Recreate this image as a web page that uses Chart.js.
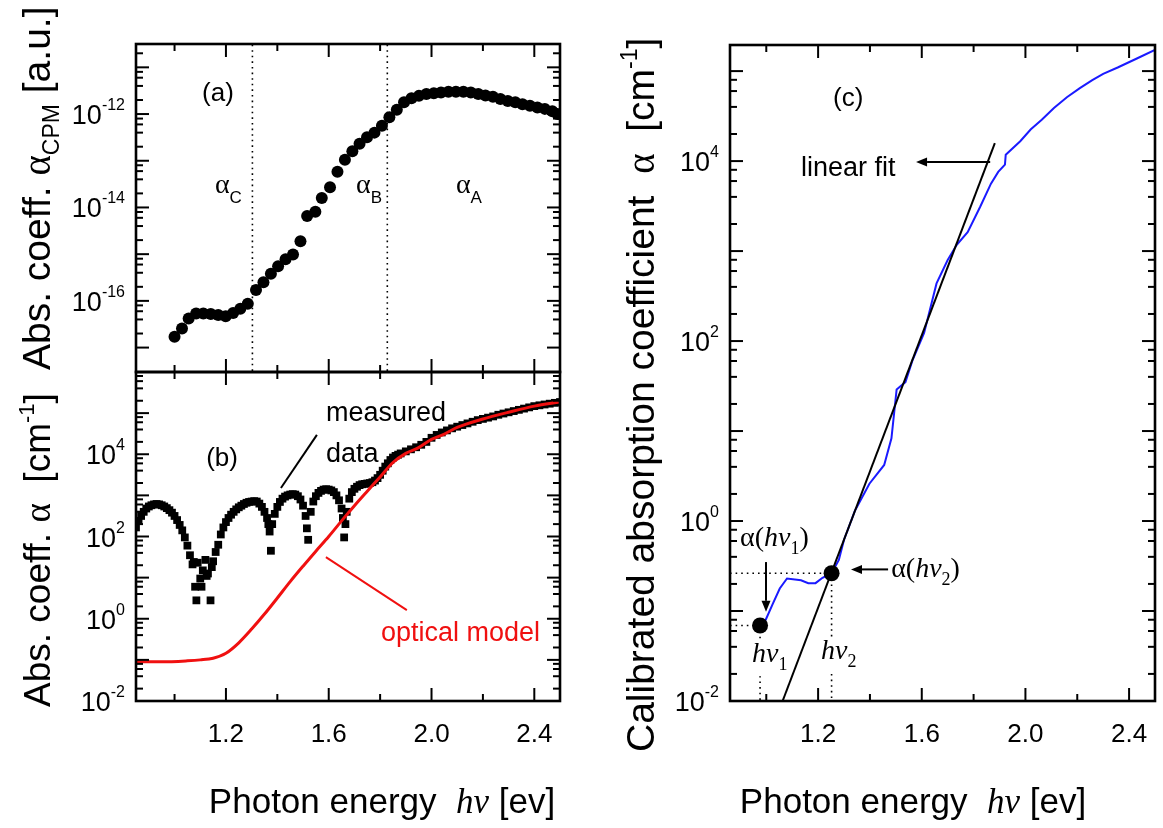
<!DOCTYPE html>
<html><head><meta charset="utf-8"><title>Absorption coefficient</title>
<script src="https://cdn.jsdelivr.net/npm/chart.js@4.4.1/dist/chart.umd.min.js"></script>
<style>
html,body{margin:0;padding:0;background:#fff;}
#wrap{position:relative;width:1163px;height:828px;overflow:hidden;background:#fff}
#wrap canvas{position:absolute;left:0;top:0}
</style></head><body>
<div id="wrap">
<canvas id="chartA" width="1163" height="828"></canvas>
<canvas id="chartB" width="1163" height="828"></canvas>
<canvas id="chartC" width="1163" height="828"></canvas>
</div>
<script>
// ================= DATA =================
// shared energy axis (eV)
const energyTicks  = [1.0, 1.2, 1.4, 1.6, 1.8, 2.0, 2.2, 2.4];
const energyLabels = ['1.2', '1.6', '2.0', '2.4'];

// panel (a): CPM absorption (a.u.)
const cpmEnergy = [1.0,1.029,1.055,1.084,1.112,1.141,1.17,1.199,1.228,1.256,1.285,1.317,1.346,1.375,1.403,1.432,1.461,1.49,1.516,1.548,1.573,1.605,1.634,1.663,1.692,1.72,1.749,1.778,1.807,1.836,1.865,1.893,1.922,1.951,1.98,2.009,2.037,2.066,2.095,2.124,2.153,2.182,2.21,2.239,2.268,2.297,2.326,2.354,2.383,2.412,2.441,2.47,2.49];
const cpmAlpha  = [1.7e-17,2.57e-17,4.17e-17,5.37e-17,5.37e-17,5.25e-17,5.0e-17,4.68e-17,5.5e-17,6.76e-17,8.7e-17,1.7e-16,2.5e-16,3.8e-16,5.5e-16,7.8e-16,9.8e-16,1.9e-15,6.6e-15,8.1e-15,1.6e-14,2.7e-14,5.8e-14,1.05e-13,1.6e-13,2.3e-13,3.2e-13,4.0e-13,5.6e-13,8.5e-13,1.23e-12,1.78e-12,2.19e-12,2.45e-12,2.7e-12,2.8e-12,2.9e-12,3.0e-12,3.0e-12,3.0e-12,2.9e-12,2.7e-12,2.5e-12,2.35e-12,2.1e-12,1.9e-12,1.78e-12,1.62e-12,1.5e-12,1.38e-12,1.29e-12,1.15e-12,1.0e-12];
const regionEdges = [1.303, 1.828];
const regionNames = ['C', 'B', 'A'];

// panel (b): measured data (cm^-1)
const measEnergy = [0.85,0.86,0.87,0.88,0.89,0.90,0.91,0.92,0.93,0.94,0.95,0.96,0.97,0.98,0.99,1.00,1.01,1.02,1.03,1.04,1.05,1.06,1.07,1.075,1.08,1.085,1.09,1.10,1.105,1.11,1.12,1.125,1.13,1.14,1.145,1.15,1.16,1.17,1.18,1.19,1.20,1.21,1.22,1.23,1.24,1.25,1.26,1.27,1.28,1.29,1.30,1.31,1.32,1.33,1.34,1.35,1.36,1.365,1.37,1.375,1.38,1.39,1.40,1.41,1.42,1.43,1.44,1.45,1.46,1.47,1.48,1.49,1.50,1.51,1.515,1.52,1.53,1.54,1.55,1.56,1.57,1.58,1.59,1.60,1.61,1.62,1.63,1.64,1.65,1.655,1.66,1.665,1.67,1.68,1.69,1.70,1.71,1.72,1.73,1.74,1.75,1.76,1.77,1.78,1.79,1.80,1.81,1.82,1.83,1.84,1.85,1.86,1.87,1.88,1.90,1.92,1.94,1.96,1.98,2.00,2.02,2.04,2.06,2.08,2.10,2.12,2.14,2.16,2.18,2.20,2.22,2.24,2.26,2.28,2.30,2.32,2.34,2.36,2.38,2.40,2.42,2.44,2.46,2.48,2.50];
const measAlpha  = [166,240,316,398,479,537,575,603,617,603,575,537,490,437,380,316,251,191,141,95,60,35,21,24,6.0,2.8,23,9.5,6.0,15,27,11,12.6,2.8,18,25,42,63,112,166,224,282,339,398,457,513,562,617,661,692,708,724,708,631,525,398,282,200,132,45,200,355,525,692,832,933,1000,1047,1072,1047,955,794,562,316,158,83,398,708,955,1148,1288,1380,1413,1380,1318,1202,1000,759,479,282,95,200,398,832,1202,1445,1622,1778,1862,1905,1950,1995,2089,2291,2630,3162,3981,5012,6026,7244,8318,9120,9772,10470,11750,13180,14790,16980,19950,25120,29510,33880,38020,42660,46770,51290,56230,61660,67610,72440,77620,83180,91200,97720,104700,112200,120200,128800,138000,147900,154900,162200,169800,177800,186200];

// panel (b): optical model (cm^-1)
const modelEnergy = [0.85,0.95,1.05,1.10,1.15,1.20,1.25,1.30,1.35,1.40,1.45,1.50,1.55,1.60,1.65,1.70,1.75,1.80,1.85,1.90,1.95,2.00,2.05,2.10,2.20,2.30,2.40,2.50];
const modelAlpha  = [0.09,0.09,0.095,0.10,0.11,0.145,0.26,0.56,1.3,3.2,8.0,19,44,100,240,560,1260,2800,6300,10500,14500,23000,31000,45000,72000,105000,148000,186000];

// panel (c): calibrated absorption coefficient (cm^-1)
const calEnergy = [0.997,1.025,1.052,1.08,1.134,1.162,1.19,1.217,1.252,1.28,1.30,1.343,1.398,1.455,1.483,1.503,1.537,1.565,1.609,1.657,1.70,1.735,1.777,1.825,1.867,1.895,1.921,1.924,1.98,2.02,2.063,2.11,2.16,2.21,2.258,2.30,2.356,2.43,2.503];
const calAlpha  = [0.079,0.12,0.178,0.23,0.22,0.204,0.204,0.234,0.263,0.37,0.62,1.32,2.6,4.2,8.3,29,35,62,123,437,794,1175,1622,3090,5620,7590,9120,11750,16600,22400,28840,38900,51290,64600,79430,93300,109600,138000,173800];
const fitEnergy = [1.063, 1.882];
const fitAlpha  = [0.01, 15800];
const markEnergy = [0.976, 1.252];   // h nu_1, h nu_2
const markAlpha  = [0.069, 0.263];   // alpha(h nu_1), alpha(h nu_2)

// log-axis decades and labelled exponents
const decadesA = [-17,-16,-15,-14,-13,-12,-11];
const labelExpA = [-16,-14,-12];
const decadesB = [-2,-1,0,1,2,3,4,5,6];
const labelExpB = [-2,0,2,4];
const decadesC = [-2,-1,0,1,2,3,4,5];
const labelExpC = [-2,0,2,4];
const minorMult = [2,4,6,8];

// ================= HELPERS =================
const W = 1163, H = 828;
const SANS = '"Liberation Sans", Arial, Helvetica, sans-serif';
const SERIF = '"Liberation Serif", "Times New Roman", Times, serif';
const fnt = (size, fam, style) => ((style ? style + ' ' : '') + size + 'px ' + fam);
const pts = (xs, ys) => xs.map((x, i) => ({x: x, y: ys[i]}));

function measureRuns(ctx, runs) { let w = 0; for (const r of runs) { ctx.font = r.font; w += ctx.measureText(r.t).width; } return w; }
function drawRuns(ctx, x, y, runs, opt) {
  opt = opt || {};
  const align = opt.align || 'left', rot = opt.rot || 0;
  ctx.save(); ctx.translate(x, y); if (rot) ctx.rotate(rot);
  ctx.textAlign = 'left'; ctx.textBaseline = 'alphabetic';
  const w = measureRuns(ctx, runs);
  let cx = align === 'center' ? -w / 2 : (align === 'right' ? -w : 0);
  if (opt.bg) { ctx.fillStyle = '#fff'; ctx.fillRect(cx - 2, -opt.bg[0], w + 4, opt.bg[0] + opt.bg[1]); }
  for (const r of runs) { ctx.font = r.font; ctx.fillStyle = r.color || '#000'; ctx.fillText(r.t, cx, r.dy || 0); cx += ctx.measureText(r.t).width; }
  ctx.restore(); return w;
}
function seg(ctx, x1, y1, x2, y2) { ctx.beginPath(); ctx.moveTo(x1, y1); ctx.lineTo(x2, y2); ctx.stroke(); }
function arrow(ctx, x1, y1, x2, y2) {
  ctx.save(); ctx.strokeStyle = '#000'; ctx.fillStyle = '#000'; ctx.lineWidth = 2;
  const ang = Math.atan2(y2 - y1, x2 - x1), hl = 11, hw = 4.5;
  const bx = x2 - hl * Math.cos(ang), by = y2 - hl * Math.sin(ang);
  seg(ctx, x1, y1, bx, by);
  ctx.beginPath(); ctx.moveTo(x2, y2);
  ctx.lineTo(bx + hw * Math.sin(ang), by - hw * Math.cos(ang));
  ctx.lineTo(bx - hw * Math.sin(ang), by + hw * Math.cos(ang));
  ctx.closePath(); ctx.fill(); ctx.restore();
}

function makeDeco(name, o) {
  return {
    id: 'deco' + name,
    afterDatasetsDraw(chart) {
      const ctx = chart.ctx, a = chart.chartArea, xs = chart.scales.x, ys = chart.scales.y;
      const P = (x, y) => [xs.getPixelForValue(x), ys.getPixelForValue(y)];
      if (o.annotate) o.annotate(ctx, P);
      ctx.save();
      ctx.strokeStyle = '#000'; ctx.lineWidth = 2;
      for (const v of energyTicks) {
        const px = xs.getPixelForValue(v);
        const L = energyLabels.includes(v.toFixed(1)) ? 13 : 7;
        seg(ctx, px, a.bottom, px, a.bottom - L);
        seg(ctx, px, a.top, px, a.top + L);
      }
      for (const e of o.decades) {
        for (const m of [1].concat(minorMult)) {
          const v = m * Math.pow(10, e);
          if (v < ys.min * 0.999 || v > ys.max * 1.001) continue;
          const py = ys.getPixelForValue(v), L = m === 1 ? 13 : 7;
          seg(ctx, a.left, py, a.left + L, py);
          seg(ctx, a.right, py, a.right - L, py);
        }
      }
      ctx.lineWidth = 2.6;
      ctx.strokeRect(a.left, a.top, a.right - a.left, a.bottom - a.top);
      for (const e of o.labelExp) {
        const py = ys.getPixelForValue(Math.pow(10, e));
        drawRuns(ctx, a.left - 11, py + 10, [{t: '10', font: fnt(27, SANS)}, {t: String(e), font: fnt(16, SANS), dy: -14}], {align: 'right'});
      }
      if (o.xLabels) {
        for (const s of energyLabels) {
          drawRuns(ctx, xs.getPixelForValue(parseFloat(s)), 742, [{t: s, font: fnt(26, SANS)}], {align: 'center'});
        }
        drawRuns(ctx, o.xTitleX, 813, [
          {t: 'Photon energy  ', font: fnt(35, SANS)},
          {t: 'h\u03BD', font: fnt(35, SERIF, 'italic')},
          {t: ' [ev]', font: fnt(35, SANS)}], {align: 'center'});
      }
      if (o.yTitle) drawRuns(ctx, o.yTitle.x, o.yTitle.y, o.yTitle.runs, {rot: -Math.PI / 2});
      ctx.restore();
    }
  };
}

function makeChart(id, area, xRange, yRange, datasets, deco) {
  const cv = document.getElementById(id);
  return new Chart(cv, {
    type: 'scatter',
    data: {datasets: datasets},
    options: {
      responsive: false, animation: false, devicePixelRatio: 1, events: [],
      layout: {autoPadding: false, padding: {left: area.left, top: area.top, right: W - area.right, bottom: H - area.bottom}},
      plugins: {legend: {display: false}, tooltip: {enabled: false}},
      scales: {
        x: {type: 'linear', min: xRange[0], max: xRange[1], ticks: {display: false}, grid: {display: false, drawTicks: false}, border: {display: false}},
        y: {type: 'logarithmic', min: yRange[0], max: yRange[1], ticks: {display: false}, grid: {display: false, drawTicks: false}, border: {display: false}}
      }
    },
    plugins: [deco]
  });
}

const dotted = {borderColor: '#000', borderWidth: 1.6, borderDash: [1.6, 4], pointRadius: 0, showLine: true, fill: false};

// ================= PANEL (a) =================
const yA = [3.16e-18, 3.16e-11];
makeChart('chartA', {left: 136, top: 44, right: 560, bottom: 372}, [0.85, 2.5], yA, [
  {data: pts(cpmEnergy, cpmAlpha), pointRadius: 6, pointStyle: 'circle', backgroundColor: '#000', borderColor: '#000', borderWidth: 0, showLine: false},
  Object.assign({data: [{x: regionEdges[0], y: yA[0]}, {x: regionEdges[0], y: yA[1]}]}, dotted),
  Object.assign({data: [{x: regionEdges[1], y: yA[0]}, {x: regionEdges[1], y: yA[1]}]}, dotted)
], makeDeco('A', {
  decades: decadesA, labelExp: labelExpA, xLabels: false,
  yTitle: {x: 50, y: 370, runs: [
    {t: 'Abs. coeff. ', font: fnt(39, SANS)}, {t: '\u03B1', font: fnt(39, SERIF)},
    {t: 'CPM', font: fnt(23, SANS), dy: 9}, {t: ' [a.u.]', font: fnt(39, SANS)}]},
  annotate(ctx, P) {
    let p = P(1.169, 1.9e-12);
    drawRuns(ctx, p[0], p[1], [{t: '(a)', font: fnt(26, SANS)}], {align: 'center'});
    const lx = [1.157, 1.706, 2.095];
    lx.forEach((x, i) => {
      const q = P(x, 2.0e-14);
      drawRuns(ctx, q[0], q[1], [{t: '\u03B1', font: fnt(28, SERIF)}, {t: regionNames[i], font: fnt(17, SANS), dy: 10}]);
    });
  }
}));

// ================= PANEL (b) =================
makeChart('chartB', {left: 136, top: 372, right: 560, bottom: 701}, [0.85, 2.5], [1e-2, 1e6], [
  {data: pts(modelEnergy, modelAlpha), borderColor: '#f01010', borderWidth: 3, pointRadius: 0, showLine: true, cubicInterpolationMode: 'monotone'},
  {data: [{x: 1.554, y: 29500}, {x: 1.414, y: 1510}], borderColor: '#000', borderWidth: 2, pointRadius: 0, showLine: true},
  {data: [{x: 1.589, y: 31.6}, {x: 1.904, y: 1.62}], borderColor: '#f01010', borderWidth: 2, pointRadius: 0, showLine: true},
  {data: pts(measEnergy, measAlpha), pointRadius: 5.5, pointStyle: 'rect', backgroundColor: '#000', borderColor: '#000', borderWidth: 0, showLine: false}
], makeDeco('B', {
  decades: decadesB, labelExp: labelExpB, xLabels: true, xTitleX: 382,
  yTitle: {x: 50, y: 707, runs: [
    {t: 'Abs. coeff. ', font: fnt(37, SANS)}, {t: '\u03B1', font: fnt(37, SERIF)},
    {t: '  [cm', font: fnt(37, SANS)}, {t: '-1', font: fnt(22, SANS), dy: -16}, {t: ']', font: fnt(37, SANS)}]},
  annotate(ctx, P) {
    let p = P(1.185, 5100);
    drawRuns(ctx, p[0], p[1], [{t: '(b)', font: fnt(26, SANS)}], {align: 'center'});
    p = P(1.589, 65000); drawRuns(ctx, p[0], p[1], [{t: 'measured', font: fnt(27, SANS)}]);
    p = P(1.589, 6450); drawRuns(ctx, p[0], p[1], [{t: 'data', font: fnt(27, SANS)}]);
    p = P(1.803, 0.285); drawRuns(ctx, p[0], p[1], [{t: 'optical model', font: fnt(27, SANS), color: '#f01010'}]);
  }
}));

// ================= PANEL (c) =================
const xC = [0.86, 2.5];
makeChart('chartC', {left: 730, top: 45, right: 1155, bottom: 701}, xC, [1e-2, 1.95e5], [
  {data: pts(markEnergy, markAlpha), pointRadius: 8, pointStyle: 'circle', backgroundColor: '#000', borderColor: '#000', borderWidth: 0, showLine: false},
  {data: pts(fitEnergy, fitAlpha), borderColor: '#000', borderWidth: 2, pointRadius: 0, showLine: true},
  {data: pts(calEnergy, calAlpha), borderColor: '#1a1aff', borderWidth: 2, pointRadius: 0, showLine: true},
  Object.assign({data: [{x: xC[0], y: markAlpha[0]}, {x: markEnergy[0], y: markAlpha[0]}]}, dotted),
  Object.assign({data: [{x: xC[0], y: markAlpha[1]}, {x: markEnergy[1], y: markAlpha[1]}]}, dotted),
  Object.assign({data: [{x: markEnergy[0], y: markAlpha[0]}, {x: markEnergy[0], y: 1e-2}]}, dotted),
  Object.assign({data: [{x: markEnergy[1], y: markAlpha[1]}, {x: markEnergy[1], y: 1e-2}]}, dotted)
], makeDeco('C', {
  decades: decadesC, labelExp: labelExpC, xLabels: true, xTitleX: 913,
  yTitle: {x: 654, y: 752, runs: [
    {t: 'Calibrated absorption coefficient  ', font: fnt(39, SANS)}, {t: '\u03B1', font: fnt(39, SERIF)},
    {t: '  [cm', font: fnt(39, SANS)}, {t: '-1', font: fnt(23, SANS), dy: -17}, {t: ']', font: fnt(39, SANS)}]},
  annotate(ctx, P) {
    let p = P(1.316, 41000);
    drawRuns(ctx, p[0], p[1], [{t: '(c)', font: fnt(26, SANS)}], {align: 'center'});
    p = P(1.134, 6900); drawRuns(ctx, p[0], p[1], [{t: 'linear fit', font: fnt(27, SANS)}]);
    let a1 = P(1.864, 9770), a2 = P(1.578, 9770); arrow(ctx, a1[0], a1[1], a2[0], a2[1]);
    p = P(0.899, 0.527);
    drawRuns(ctx, p[0], p[1], [{t: '\u03B1(', font: fnt(28, SERIF)}, {t: 'h\u03BD', font: fnt(28, SERIF, 'italic')}, {t: '1', font: fnt(18, SERIF), dy: 8}, {t: ')', font: fnt(28, SERIF)}]);
    a1 = P(0.999, 0.35); a2 = P(0.999, 0.098); arrow(ctx, a1[0], a1[1], a2[0], a2[1]);
    p = P(1.482, 0.24);
    drawRuns(ctx, p[0], p[1], [{t: '\u03B1(', font: fnt(28, SERIF)}, {t: 'h\u03BD', font: fnt(28, SERIF, 'italic')}, {t: '2', font: fnt(18, SERIF), dy: 8}, {t: ')', font: fnt(28, SERIF)}]);
    a1 = P(1.47, 0.29); a2 = P(1.327, 0.29); arrow(ctx, a1[0], a1[1], a2[0], a2[1]);
    p = P(0.945, 0.027);
    drawRuns(ctx, p[0], p[1], [{t: 'h\u03BD', font: fnt(28, SERIF, 'italic')}, {t: '1', font: fnt(18, SERIF), dy: 8}], {bg: [22, 14]});
    p = P(1.211, 0.029);
    drawRuns(ctx, p[0], p[1], [{t: 'h\u03BD', font: fnt(28, SERIF, 'italic')}, {t: '2', font: fnt(18, SERIF), dy: 8}], {bg: [22, 14]});
  }
}));
</script>
</body></html>
